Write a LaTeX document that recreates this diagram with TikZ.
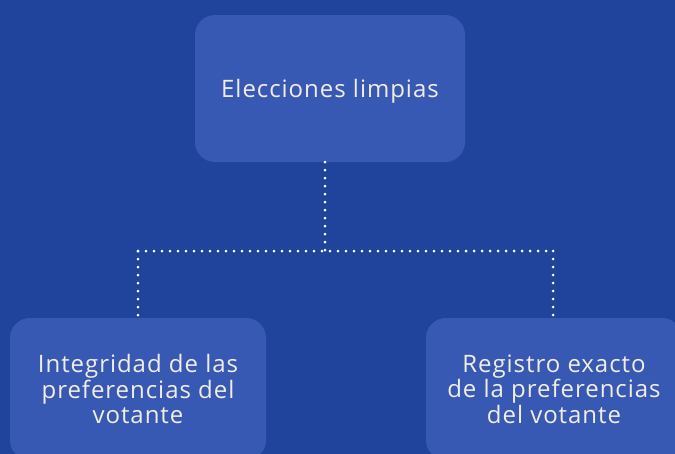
\documentclass[tikz,border=0pt]{standalone}
\usepackage{fontspec}
\setmainfont{Open Sans}[LetterSpace=4]
\definecolor{bg}{RGB}{32,68,155}
\definecolor{boxc}{RGB}{56,89,179}
\definecolor{txt}{RGB}{242,237,228}
\begin{document}
\begin{tikzpicture}[x=1pt,y=-1pt,
  card/.style={fill=boxc, rounded corners=20pt, text=txt, align=center, inner sep=0pt,
    font=\fontsize{24}{25.5}\selectfont},
  link/.style={draw=white, line width=3pt, line cap=round, dash pattern=on 0pt off 8pt}]
\useasboundingbox (0,0) rectangle (675,453);
\clip (0,0) rectangle (675,453);
\fill[bg] (-2,-2) rectangle (677,455);
\node[card, minimum width=270pt, minimum height=147pt, text depth=0pt] (top) at (330,88.5) {Elecciones limpias};
\node[card, minimum width=256pt, minimum height=142pt] (left) at (138,389) {Integridad de las\\preferencias del\\votante};
\node[card, minimum width=256pt, minimum height=142pt] (right) at (554,389) {Registro exacto\\de la preferencias\\del votante};
\coordinate (j) at (325,251);
\coordinate (jl) at (138,251);
\coordinate (jr) at (553,251);
\draw[link] (top.south -| j) -- (j);
\draw[link] (jl) -- (jr);
\draw[link] (jl) -- (left.north -| jl);
\draw[link] (jr) -- (right.north -| jr);
\end{tikzpicture}
\end{document}
